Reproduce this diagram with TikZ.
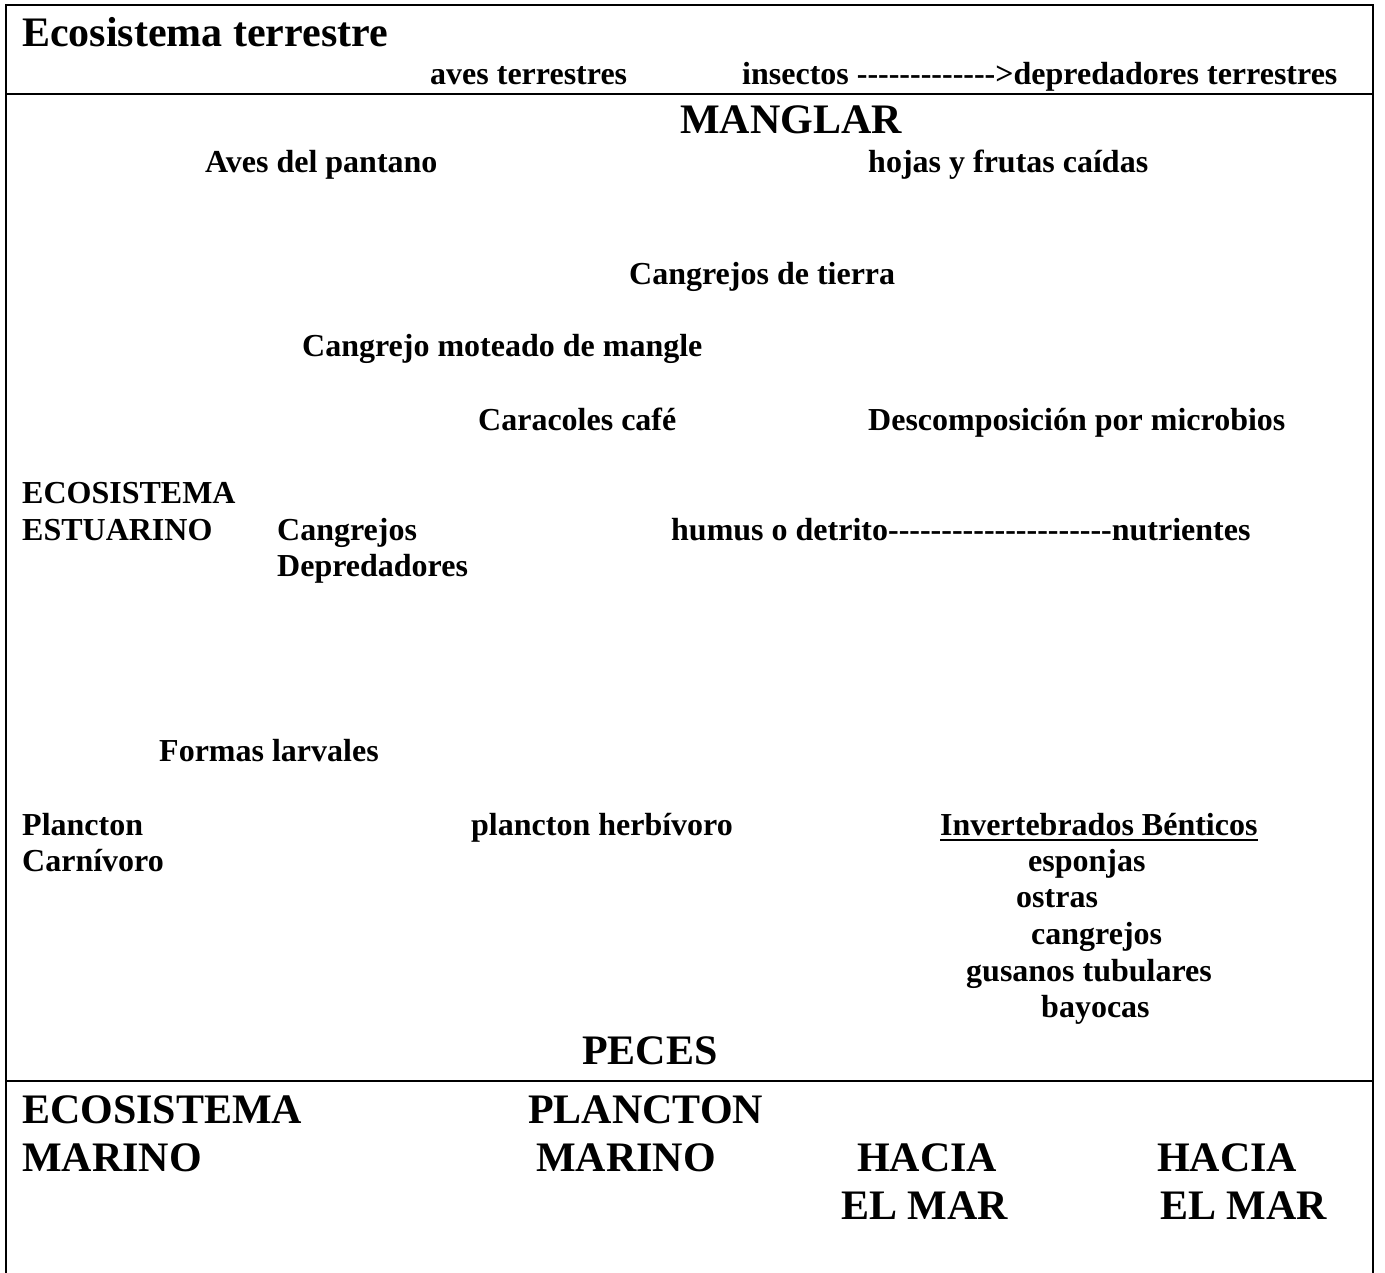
\documentclass[tikz,border=0pt]{standalone}
\usepackage{fontspec}
\setmainfont{Liberation Serif}
\newcommand\hy{-\kern0pt}
\begin{document}
\begin{tikzpicture}[x=1pt,y=-1pt,
  sm/.style={anchor=base west,inner sep=0pt,font=\fontsize{32}{37}\selectfont\bfseries},
  bg/.style={anchor=base west,inner sep=0pt,font=\fontsize{42}{48}\selectfont\bfseries},
  frame/.style={line width=2.5pt}]
\useasboundingbox (0,0) rectangle (1385,1273);
% frame
\draw[frame] (6,1273) -- (6,5) -- (1373,5) -- (1373,1273);
\draw[frame] (6,94) -- (1373,94);
\draw[frame] (6,1081) -- (1373,1081);
% terrestrial
\node[bg] (eter) at (22,47) {Ecosistema terrestre};
\node[sm] (aves) at (430,85) {aves terrestres};
\node[sm] (ins) at (742,85) {insectos \hy\hy\hy\hy\hy\hy\hy\hy\hy\hy\hy\hy\hy>depredadores terrestres};
% mangrove
\node[bg] (mang) at (680,134) {MANGLAR};
\node[sm] (pant) at (205,173) {Aves del pantano};
\node[sm] (hoj) at (868,173) {hojas y frutas caídas};
\node[sm] (ctie) at (629,285) {Cangrejos de tierra};
\node[sm] (cmot) at (302,357) {Cangrejo moteado de mangle};
\node[sm] (carc) at (478,430) {Caracoles café};
\node[sm] (desc) at (868,430) {Descomposición por microbios};
\node[sm] (est1) at (22,503) {ECOSISTEMA};
\node[sm] (est2) at (22,540) {ESTUARINO};
\node[sm] (cdep1) at (277,540) {Cangrejos};
\node[sm] (cdep2) at (277,576) {Depredadores};
\node[sm] (hum) at (671,540) {humus o detrito\hy\hy\hy\hy\hy\hy\hy\hy\hy\hy\hy\hy\hy\hy\hy\hy\hy\hy\hy\hy\hy nutrientes};
\node[sm] (larv) at (159,761) {Formas larvales};
\node[sm] (pc1) at (22,835) {Plancton};
\node[sm] (pc2) at (22,871) {Carnívoro};
\node[sm] (ph) at (471,835) {plancton herbívoro};
\node[sm] (inv) at (940,835) {Invertebrados Bénticos};
\draw[line width=2.2pt] ([yshift=-5pt]inv.base west) -- ([yshift=-5pt]inv.base east);
\node[sm] (esp) at (1028,871) {esponjas};
\node[sm] (ost) at (1016,907) {ostras};
\node[sm] (cang) at (1031,944) {cangrejos};
\node[sm] (gus) at (966,981) {gusanos tubulares};
\node[sm] (bay) at (1041,1017) {bayocas};
\node[bg] (pec) at (582,1064) {PECES};
% marine
\node[bg] (em1) at (22,1123) {ECOSISTEMA};
\node[bg] (em2) at (22,1171) {MARINO};
\node[bg] (pm1) at (528,1123) {PLANCTON};
\node[bg] (pm2) at (536,1171) {MARINO};
\node[bg] (h1a) at (857,1171) {HACIA};
\node[bg] (h1b) at (841,1219) {EL MAR};
\node[bg] (h2a) at (1157,1171) {HACIA};
\node[bg] (h2b) at (1160,1219) {EL MAR};
\end{tikzpicture}
\end{document}
